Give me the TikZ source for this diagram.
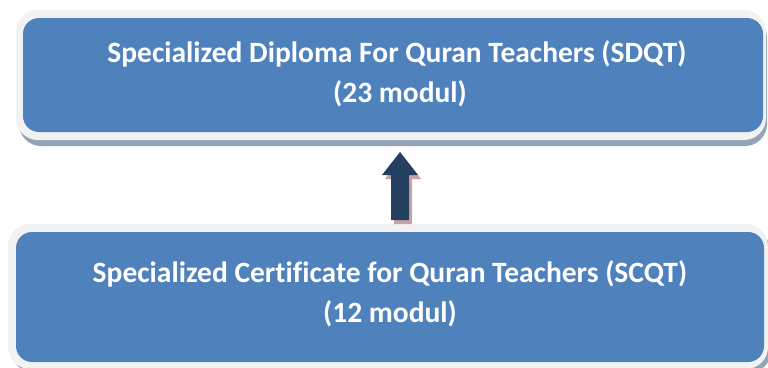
\documentclass[tikz,border=0pt]{standalone}
\usepackage{fontspec}
\setmainfont{Carlito}[Ligatures={NoCommon}]
\definecolor{boxblue}{HTML}{4F81BD}
\definecolor{rimgray}{HTML}{F2F2F2}
\definecolor{shadowgray}{HTML}{95A3B6}
\definecolor{arrownavy}{HTML}{243F60}
\definecolor{arrowshadow}{HTML}{C4A4A6}
\begin{document}
\begin{tikzpicture}[x=1pt,y=-1pt,
  rim/.style={fill=rimgray, rounded corners=22pt},
  rimshadow/.style={fill=shadowgray, rounded corners=22pt},
  bluebox/.style={fill=boxblue, rounded corners=16pt},
  boxtext/.style={text=white, font=\fontsize{29.5}{40}\selectfont\bfseries, align=center, inner sep=0pt}]
\useasboundingbox (0,0) rectangle (768,367);
% top box
\fill[rimshadow] (19,16) rectangle (767,146);
\fill[rim] (16,10) rectangle (766,140);
\fill[bluebox] (23,18) rectangle (763,132);
\node[boxtext, anchor=base] (sdqt) at (397,62) {Specialized Diploma For Quran Teachers (SDQT)};
\node[boxtext, anchor=base] (sdqtm) at (400,102) {(23 modul)};
% bottom box
\fill[rimshadow] (12,230) rectangle (771,373);
\fill[rim] (8,224) rectangle (768,369);
\fill[bluebox] (16,232) rectangle (764,362);
\node[boxtext, anchor=base] (scqt) at (390,282) {Specialized Certificate for Quran Teachers (SCQT)};
\node[boxtext, anchor=base] (scqtm) at (390,322) {(12 modul)};
% arrow
\fill[arrowshadow] (403,156) -- (421,179) -- (412,179) -- (412,224) -- (394,224) -- (394,179) -- (385,179) -- cycle;
\fill[arrownavy] (400,152) -- (418,175) -- (409,175) -- (409,220) -- (391,220) -- (391,175) -- (382,175) -- cycle;
\end{tikzpicture}
\end{document}
